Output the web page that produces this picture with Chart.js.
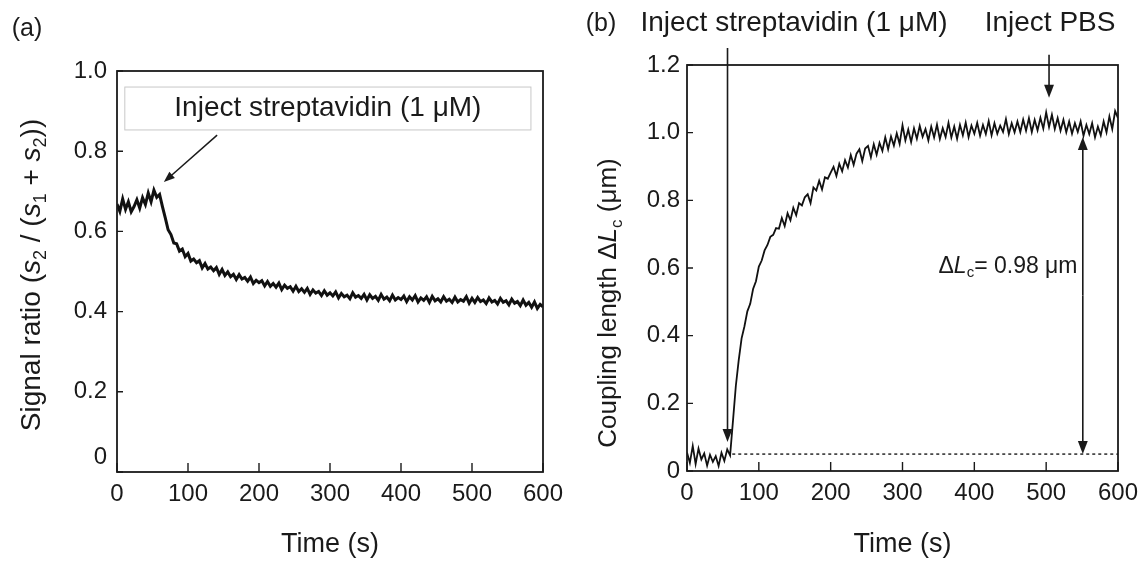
<!DOCTYPE html>
<html>
<head>
<meta charset="utf-8">
<script src="https://cdn.jsdelivr.net/npm/chart.js@4.4.1/dist/chart.umd.min.js"></script>
<style>
	html, body { margin: 0; padding: 0; background: #ffffff; }
	#wrap { position: relative; width: 1148px; height: 564px; }
	canvas { position: absolute; top: 0; }
	#chartA { left: 0; }
	#chartB { left: 574px; }
</style>
</head>
<body>
<div id="wrap">
	<canvas id="chartA" width="574" height="564"></canvas>
	<canvas id="chartB" width="574" height="564"></canvas>
</div>
<script>
// sampling times (s), shared by both panels
const timeS = [
	0, 4, 8, 12, 16, 20, 24, 28, 32, 36, 40, 44, 48, 52, 56, 60, 64, 68, 72, 76,
	80, 84, 88, 92, 96, 100, 104, 108, 112, 116, 120, 124, 128, 132, 136, 140, 144, 148, 152, 156,
	160, 164, 168, 172, 176, 180, 184, 188, 192, 196, 200, 204, 208, 212, 216, 220, 224, 228, 232, 236,
	240, 244, 248, 252, 256, 260, 264, 268, 272, 276, 280, 284, 288, 292, 296, 300, 304, 308, 312, 316,
	320, 324, 328, 332, 336, 340, 344, 348, 352, 356, 360, 364, 368, 372, 376, 380, 384, 388, 392, 396,
	400, 404, 408, 412, 416, 420, 424, 428, 432, 436, 440, 444, 448, 452, 456, 460, 464, 468, 472, 476,
	480, 484, 488, 492, 496, 500, 504, 508, 512, 516, 520, 524, 528, 532, 536, 540, 544, 548, 552, 556,
	560, 564, 568, 572, 576, 580, 584, 588, 592, 596, 600
];

// (a) signal ratio s2 / (s1 + s2)
const signalRatio = [
	0.668, 0.650, 0.681, 0.655, 0.674, 0.649, 0.662, 0.679, 0.658, 0.684,
	0.667, 0.696, 0.674, 0.703, 0.685, 0.692, 0.662, 0.634, 0.604, 0.592,
	0.571, 0.569, 0.551, 0.556, 0.537, 0.545, 0.526, 0.531, 0.522, 0.527,
	0.509, 0.520, 0.506, 0.511, 0.502, 0.510, 0.493, 0.505, 0.490, 0.499,
	0.487, 0.493, 0.480, 0.492, 0.481, 0.485, 0.476, 0.486, 0.470, 0.478,
	0.472, 0.477, 0.464, 0.475, 0.463, 0.470, 0.461, 0.471, 0.455, 0.466,
	0.458, 0.462, 0.451, 0.463, 0.450, 0.457, 0.448, 0.458, 0.443, 0.454,
	0.446, 0.450, 0.440, 0.452, 0.441, 0.447, 0.439, 0.449, 0.434, 0.445,
	0.437, 0.441, 0.432, 0.447, 0.436, 0.440, 0.433, 0.443, 0.429, 0.442,
	0.433, 0.438, 0.428, 0.443, 0.431, 0.436, 0.427, 0.441, 0.429, 0.435,
	0.430, 0.439, 0.425, 0.437, 0.429, 0.440, 0.424, 0.434, 0.428, 0.437,
	0.423, 0.438, 0.427, 0.432, 0.424, 0.437, 0.426, 0.431, 0.423, 0.436,
	0.424, 0.430, 0.426, 0.437, 0.421, 0.433, 0.423, 0.435, 0.425, 0.429,
	0.420, 0.434, 0.424, 0.428, 0.419, 0.433, 0.423, 0.427, 0.417, 0.431,
	0.421, 0.425, 0.415, 0.429, 0.416, 0.423, 0.411, 0.424, 0.408, 0.418,
	0.412
];

// (b) coupling length change (um)
const couplingLength = [
	0.055, 0.024, 0.074, 0.021, 0.066, 0.034, 0.052, 0.016, 0.048, 0.027,
	0.044, 0.015, 0.054, 0.030, 0.064, 0.046, 0.148, 0.252, 0.328, 0.392,
	0.428, 0.472, 0.494, 0.538, 0.561, 0.604, 0.622, 0.652, 0.668, 0.692,
	0.698, 0.718, 0.716, 0.748, 0.724, 0.762, 0.741, 0.778, 0.756, 0.792,
	0.785, 0.809, 0.818, 0.792, 0.838, 0.829, 0.858, 0.832, 0.868, 0.864,
	0.882, 0.899, 0.872, 0.908, 0.886, 0.919, 0.897, 0.934, 0.905, 0.938,
	0.951, 0.916, 0.953, 0.961, 0.927, 0.966, 0.935, 0.970, 0.946, 0.986,
	0.951, 0.989, 0.962, 0.998, 0.967, 1.022, 0.977, 1.009, 0.972, 1.013,
	0.982, 1.020, 0.988, 1.011, 0.977, 1.018, 0.986, 1.024, 0.981, 1.013,
	0.987, 1.029, 0.986, 1.018, 0.982, 1.023, 0.992, 1.030, 0.987, 1.021,
	0.997, 1.029, 0.991, 1.023, 0.996, 1.034, 0.992, 1.028, 0.997, 1.021,
	1.002, 1.040, 0.996, 1.028, 1.001, 1.033, 1.002, 1.039, 1.006, 1.043,
	1.002, 1.038, 1.007, 1.044, 1.012, 1.060, 1.017, 1.053, 1.011, 1.043,
	1.006, 1.038, 1.001, 1.033, 0.997, 1.028, 1.002, 1.033, 0.991, 1.023,
	0.996, 1.028, 0.986, 1.018, 0.992, 1.033, 1.001, 1.048, 1.011, 1.064,
	1.043
];

const xTicks = [0, 100, 200, 300, 400, 500, 600];

// annotation anchors, in data units
const injectTimeB = 56.4;
const pbsTime = 504;
const deltaTime = 551;
const baselineB = 0.05;
const plateauB = 0.987;

const FONT = '"Liberation Sans", Arial, Helvetica, sans-serif';
const INK = '#1a1a1a';

function partFont(p, size)
{
	const s = p.sub ? Math.round(size * 0.66) : size;
	return (p.italic ? 'italic ' : '') + s + 'px ' + FONT;
}

// text with italic / subscript runs, centred on (x, y)
function drawRich(ctx, parts, x, y, size, rotate)
{
	ctx.save();
	ctx.translate(x, y);
	if (rotate)
		ctx.rotate(-Math.PI / 2);
	ctx.fillStyle = INK;
	ctx.textBaseline = 'alphabetic';
	ctx.textAlign = 'left';
	let total = 0;
	parts.forEach(p => {
		ctx.font = partFont(p, size);
		total += ctx.measureText(p.t).width;
	});
	let cx = -total / 2;
	const base = size * 0.36;
	parts.forEach(p => {
		ctx.font = partFont(p, size);
		ctx.fillText(p.t, cx, base + (p.sub ? size * 0.2 : 0));
		cx += ctx.measureText(p.t).width;
	});
	ctx.restore();
}

function drawText(ctx, text, x, y, size)
{
	ctx.save();
	ctx.fillStyle = INK;
	ctx.font = size + 'px ' + FONT;
	ctx.textAlign = 'center';
	ctx.textBaseline = 'middle';
	ctx.fillText(text, x, y);
	ctx.restore();
}

function arrow(ctx, x0, y0, x1, y1, head)
{
	const ang = Math.atan2(y1 - y0, x1 - x0);
	const c = Math.cos(ang), s = Math.sin(ang);
	ctx.beginPath();
	ctx.moveTo(x0, y0);
	ctx.lineTo(x1 - c * head * 0.7, y1 - s * head * 0.7);
	ctx.stroke();
	ctx.beginPath();
	ctx.moveTo(x1, y1);
	ctx.lineTo(x1 - head * c + head * 0.38 * s, y1 - head * s - head * 0.38 * c);
	ctx.lineTo(x1 - head * c - head * 0.38 * s, y1 - head * s + head * 0.38 * c);
	ctx.closePath();
	ctx.fill();
}

const framePlugin = {
	id: 'frame',
	afterDatasetsDraw(chart)
	{
		const {ctx, chartArea: a, scales: {x, y}} = chart;
		ctx.save();
		ctx.strokeStyle = INK;
		ctx.lineWidth = 1.8;
		ctx.strokeRect(a.left, a.top, a.right - a.left, a.bottom - a.top);
		ctx.lineWidth = 1.4;
		ctx.beginPath();
		x.ticks.forEach(t => {
			const px = x.getPixelForValue(t.value);
			ctx.moveTo(px, a.bottom);
			ctx.lineTo(px, a.bottom - 9);
		});
		y.ticks.forEach(t => {
			const py = y.getPixelForValue(t.value);
			ctx.moveTo(a.left, py);
			ctx.lineTo(a.left + 6, py);
		});
		ctx.stroke();
		ctx.restore();
	}
};

const notesA = {
	id: 'notesA',
	afterDraw(chart)
	{
		const {ctx, scales: {x, y}} = chart;
		drawText(ctx, '(a)', 27, 29, 25);

		// label box
		ctx.save();
		ctx.strokeStyle = '#c8c8c8';
		ctx.lineWidth = 1;
		const bx0 = x.getPixelForValue(11), bx1 = x.getPixelForValue(583);
		const by0 = y.getPixelForValue(0.96), by1 = y.getPixelForValue(0.853);
		ctx.strokeRect(bx0, by0, bx1 - bx0, by1 - by0);
		ctx.restore();
		drawText(ctx, 'Inject streptavidin (1 μM)', (bx0 + bx1) / 2, (by0 + by1) / 2, 28);

		ctx.save();
		ctx.strokeStyle = INK;
		ctx.fillStyle = INK;
		ctx.lineWidth = 1.5;
		arrow(ctx, x.getPixelForValue(141), y.getPixelForValue(0.84), x.getPixelForValue(66), y.getPixelForValue(0.723), 11);
		ctx.restore();

		drawRich(ctx, [
			{t: 'Signal ratio ('}, {t: 's', italic: true}, {t: '2', sub: true}, {t: ' / ('},
			{t: 's', italic: true}, {t: '1', sub: true}, {t: ' + '}, {t: 's', italic: true}, {t: '2', sub: true}, {t: '))'}
		], 30, 275, 28, true);
	}
};

const notesB = {
	id: 'notesB',
	afterDraw(chart)
	{
		const {ctx, chartArea: a, scales: {x, y}} = chart;
		drawText(ctx, '(b)', 27, 24, 25);
		drawText(ctx, 'Inject streptavidin (1 μM)', 220, 23, 28);
		drawText(ctx, 'Inject PBS', x.getPixelForValue(pbsTime) + 1, 23, 28);

		ctx.save();
		ctx.strokeStyle = INK;
		ctx.fillStyle = INK;
		ctx.lineWidth = 1.6;
		const xi = x.getPixelForValue(injectTimeB);
		arrow(ctx, xi, y.getPixelForValue(1.25), xi, y.getPixelForValue(0.086), 13);
		const xp = x.getPixelForValue(pbsTime);
		arrow(ctx, xp, y.getPixelForValue(1.23), xp, y.getPixelForValue(1.103), 13);

		// baseline before injection
		ctx.lineWidth = 1.4;
		ctx.setLineDash([3, 3]);
		ctx.beginPath();
		ctx.moveTo(x.getPixelForValue(63), y.getPixelForValue(baselineB));
		ctx.lineTo(a.right, y.getPixelForValue(baselineB));
		ctx.stroke();
		ctx.setLineDash([]);

		// double arrow for delta Lc
		ctx.lineWidth = 1.6;
		const xd = x.getPixelForValue(deltaTime);
		const yTop = y.getPixelForValue(plateauB), yBot = y.getPixelForValue(baselineB);
		const mid = (yTop + yBot) / 2;
		arrow(ctx, xd, mid, xd, yTop, 13);
		arrow(ctx, xd, mid, xd, yBot, 13);
		ctx.restore();

		drawRich(ctx, [
			{t: 'Δ'}, {t: 'L', italic: true}, {t: 'c', sub: true}, {t: '= 0.98 μm'}
		], 434, y.getPixelForValue(0.61), 23, false);

		drawRich(ctx, [
			{t: 'Coupling length Δ'}, {t: 'L', italic: true}, {t: 'c', sub: true}, {t: ' (μm)'}
		], 33, 303, 26, true);
	}
};

Chart.defaults.font.family = FONT;
Chart.defaults.color = INK;

function makeChart(canvasId, values, yMax, area, lineWidth, zeroLabel, extra)
{
	return new Chart(document.getElementById(canvasId),
	{
		type: 'line',
		data:
		{
			datasets: [{
				data: timeS.map((t, i) => ({x: t, y: values[i]})),
				borderColor: '#111111',
				borderWidth: lineWidth,
				pointRadius: 0,
				tension: 0
			}]
		},
		options:
		{
			responsive: false,
			animation: false,
			events: [],
			layout: { padding: { top: area.top, right: 574 - area.right, left: 0, bottom: 0 } },
			plugins:
			{
				legend: { display: false },
				tooltip: { enabled: false }
			},
			scales:
			{
				x:
				{
					type: 'linear',
					min: 0,
					max: 600,
					grid: { display: false, drawTicks: false },
					border: { display: false },
					afterBuildTicks: s => { s.ticks = xTicks.map(v => ({value: v})); },
					ticks: { padding: 8, maxRotation: 0, autoSkip: false, font: { size: 24 }, callback: v => String(v) },
					title: { display: true, text: 'Time (s)', font: { size: 27 }, padding: { top: 0, bottom: 3 } },
					afterFit: s => { s.height = 564 - area.bottom; s.paddingLeft = 0; s.paddingRight = 0; }
				},
				y:
				{
					min: 0,
					max: yMax,
					grid: { display: false, drawTicks: false },
					border: { display: false },
					ticks: { stepSize: 0.2, padding: area.labelGap, font: { size: 24 },
						callback: v => (Math.abs(v) < 1e-9 ? zeroLabel : v.toFixed(1)) },
					afterFit: s => { s.width = area.left; s.paddingTop = 0; s.paddingBottom = 0; }
				}
			}
		},
		plugins: [framePlugin, extra]
	});
}

makeChart('chartA', signalRatio, 1.0, {left: 117, right: 543, top: 71, bottom: 472, labelGap: 10}, 3, ['0', ''], notesA);
makeChart('chartB', couplingLength, 1.2, {left: 113, right: 544, top: 65, bottom: 471, labelGap: 7}, 1.8, '0', notesB);
</script>
</body>
</html>
